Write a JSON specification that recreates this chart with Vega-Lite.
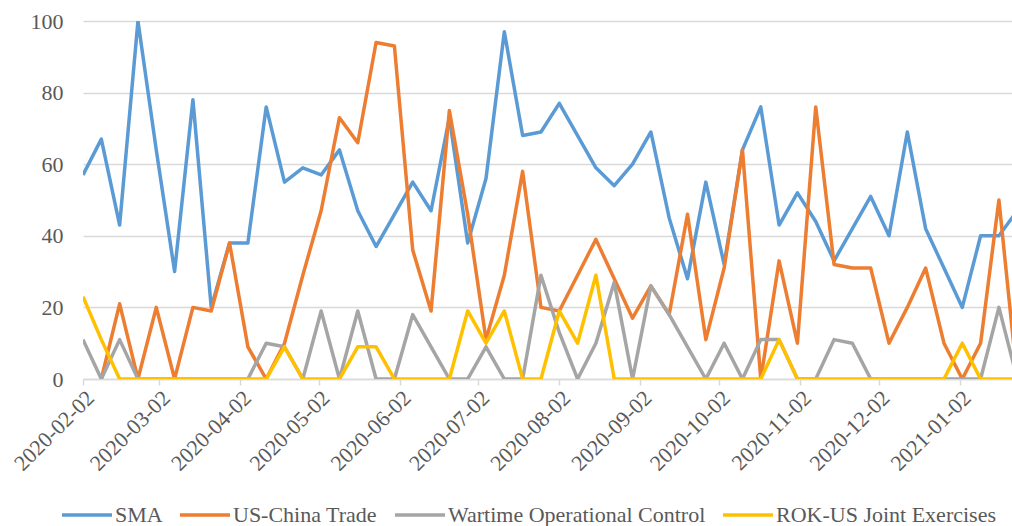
{
  "$schema": "https://vega.github.io/schema/vega-lite/v6.json",
  "width": 929,
  "height": 358,
  "autosize": {"type": "none"},
  "padding": {"left": 83, "top": 21, "right": 0, "bottom": 147},
  "background": "white",
  "config": {"view": {"stroke": null}, "font": "Liberation Serif"},
  "data": {"values": [
    {"d":"2020-02-02","s":"SMA","v":57},{"d":"2020-02-09","s":"SMA","v":67},{"d":"2020-02-16","s":"SMA","v":43},{"d":"2020-02-23","s":"SMA","v":100},
    {"d":"2020-03-01","s":"SMA","v":64},{"d":"2020-03-08","s":"SMA","v":30},{"d":"2020-03-15","s":"SMA","v":78},{"d":"2020-03-22","s":"SMA","v":20},
    {"d":"2020-03-29","s":"SMA","v":38},{"d":"2020-04-05","s":"SMA","v":38},{"d":"2020-04-12","s":"SMA","v":76},{"d":"2020-04-19","s":"SMA","v":55},
    {"d":"2020-04-26","s":"SMA","v":59},{"d":"2020-05-03","s":"SMA","v":57},{"d":"2020-05-10","s":"SMA","v":64},{"d":"2020-05-17","s":"SMA","v":47},
    {"d":"2020-05-24","s":"SMA","v":37},{"d":"2020-05-31","s":"SMA","v":46},{"d":"2020-06-07","s":"SMA","v":55},{"d":"2020-06-14","s":"SMA","v":47},
    {"d":"2020-06-21","s":"SMA","v":73},{"d":"2020-06-28","s":"SMA","v":38},{"d":"2020-07-05","s":"SMA","v":56},{"d":"2020-07-12","s":"SMA","v":97},
    {"d":"2020-07-19","s":"SMA","v":68},{"d":"2020-07-26","s":"SMA","v":69},{"d":"2020-08-02","s":"SMA","v":77},{"d":"2020-08-09","s":"SMA","v":68},
    {"d":"2020-08-16","s":"SMA","v":59},{"d":"2020-08-23","s":"SMA","v":54},{"d":"2020-08-30","s":"SMA","v":60},{"d":"2020-09-06","s":"SMA","v":69},
    {"d":"2020-09-13","s":"SMA","v":45},{"d":"2020-09-20","s":"SMA","v":28},{"d":"2020-09-27","s":"SMA","v":55},{"d":"2020-10-04","s":"SMA","v":32},
    {"d":"2020-10-11","s":"SMA","v":64},{"d":"2020-10-18","s":"SMA","v":76},{"d":"2020-10-25","s":"SMA","v":43},{"d":"2020-11-01","s":"SMA","v":52},
    {"d":"2020-11-08","s":"SMA","v":44},{"d":"2020-11-15","s":"SMA","v":33},{"d":"2020-11-22","s":"SMA","v":42},{"d":"2020-11-29","s":"SMA","v":51},
    {"d":"2020-12-06","s":"SMA","v":40},{"d":"2020-12-13","s":"SMA","v":69},{"d":"2020-12-20","s":"SMA","v":42},{"d":"2020-12-27","s":"SMA","v":31},
    {"d":"2021-01-03","s":"SMA","v":20},{"d":"2021-01-10","s":"SMA","v":40},{"d":"2021-01-17","s":"SMA","v":40},{"d":"2021-01-24","s":"SMA","v":47},

    {"d":"2020-02-09","s":"US-China Trade","v":0},{"d":"2020-02-16","s":"US-China Trade","v":21},{"d":"2020-02-23","s":"US-China Trade","v":0},
    {"d":"2020-03-01","s":"US-China Trade","v":20},{"d":"2020-03-08","s":"US-China Trade","v":0},{"d":"2020-03-15","s":"US-China Trade","v":20},{"d":"2020-03-22","s":"US-China Trade","v":19},
    {"d":"2020-03-29","s":"US-China Trade","v":38},{"d":"2020-04-05","s":"US-China Trade","v":9},{"d":"2020-04-12","s":"US-China Trade","v":0},{"d":"2020-04-19","s":"US-China Trade","v":10},
    {"d":"2020-04-26","s":"US-China Trade","v":29},{"d":"2020-05-03","s":"US-China Trade","v":47},{"d":"2020-05-10","s":"US-China Trade","v":73},{"d":"2020-05-17","s":"US-China Trade","v":66},
    {"d":"2020-05-24","s":"US-China Trade","v":94},{"d":"2020-05-31","s":"US-China Trade","v":93},{"d":"2020-06-07","s":"US-China Trade","v":36},{"d":"2020-06-14","s":"US-China Trade","v":19},
    {"d":"2020-06-21","s":"US-China Trade","v":75},{"d":"2020-06-28","s":"US-China Trade","v":46},{"d":"2020-07-05","s":"US-China Trade","v":11},{"d":"2020-07-12","s":"US-China Trade","v":29},
    {"d":"2020-07-19","s":"US-China Trade","v":58},{"d":"2020-07-26","s":"US-China Trade","v":20},{"d":"2020-08-02","s":"US-China Trade","v":19},{"d":"2020-08-09","s":"US-China Trade","v":29},
    {"d":"2020-08-16","s":"US-China Trade","v":39},{"d":"2020-08-23","s":"US-China Trade","v":28},{"d":"2020-08-30","s":"US-China Trade","v":17},{"d":"2020-09-06","s":"US-China Trade","v":26},
    {"d":"2020-09-13","s":"US-China Trade","v":18},{"d":"2020-09-20","s":"US-China Trade","v":46},{"d":"2020-09-27","s":"US-China Trade","v":11},{"d":"2020-10-04","s":"US-China Trade","v":31},
    {"d":"2020-10-11","s":"US-China Trade","v":64},{"d":"2020-10-18","s":"US-China Trade","v":0},{"d":"2020-10-25","s":"US-China Trade","v":33},{"d":"2020-11-01","s":"US-China Trade","v":10},
    {"d":"2020-11-08","s":"US-China Trade","v":76},{"d":"2020-11-15","s":"US-China Trade","v":32},{"d":"2020-11-22","s":"US-China Trade","v":31},{"d":"2020-11-29","s":"US-China Trade","v":31},
    {"d":"2020-12-06","s":"US-China Trade","v":10},{"d":"2020-12-13","s":"US-China Trade","v":20},{"d":"2020-12-20","s":"US-China Trade","v":31},{"d":"2020-12-27","s":"US-China Trade","v":10},
    {"d":"2021-01-03","s":"US-China Trade","v":0},{"d":"2021-01-10","s":"US-China Trade","v":10},{"d":"2021-01-17","s":"US-China Trade","v":50},{"d":"2021-01-24","s":"US-China Trade","v":0},

    {"d":"2020-02-02","s":"Wartime Operational Control","v":11},{"d":"2020-02-09","s":"Wartime Operational Control","v":0},{"d":"2020-02-16","s":"Wartime Operational Control","v":11},{"d":"2020-02-23","s":"Wartime Operational Control","v":0},
    {"d":"2020-03-01","s":"Wartime Operational Control","v":0},{"d":"2020-03-08","s":"Wartime Operational Control","v":0},{"d":"2020-03-15","s":"Wartime Operational Control","v":0},{"d":"2020-03-22","s":"Wartime Operational Control","v":0},
    {"d":"2020-03-29","s":"Wartime Operational Control","v":0},{"d":"2020-04-05","s":"Wartime Operational Control","v":0},{"d":"2020-04-12","s":"Wartime Operational Control","v":10},{"d":"2020-04-19","s":"Wartime Operational Control","v":9},
    {"d":"2020-04-26","s":"Wartime Operational Control","v":0},{"d":"2020-05-03","s":"Wartime Operational Control","v":19},{"d":"2020-05-10","s":"Wartime Operational Control","v":0},{"d":"2020-05-17","s":"Wartime Operational Control","v":19},
    {"d":"2020-05-24","s":"Wartime Operational Control","v":0},{"d":"2020-05-31","s":"Wartime Operational Control","v":0},{"d":"2020-06-07","s":"Wartime Operational Control","v":18},{"d":"2020-06-14","s":"Wartime Operational Control","v":9},
    {"d":"2020-06-21","s":"Wartime Operational Control","v":0},{"d":"2020-06-28","s":"Wartime Operational Control","v":0},{"d":"2020-07-05","s":"Wartime Operational Control","v":9},{"d":"2020-07-12","s":"Wartime Operational Control","v":0},
    {"d":"2020-07-19","s":"Wartime Operational Control","v":0},{"d":"2020-07-26","s":"Wartime Operational Control","v":29},{"d":"2020-08-02","s":"Wartime Operational Control","v":13},{"d":"2020-08-09","s":"Wartime Operational Control","v":0},
    {"d":"2020-08-16","s":"Wartime Operational Control","v":10},{"d":"2020-08-23","s":"Wartime Operational Control","v":27},{"d":"2020-08-30","s":"Wartime Operational Control","v":0},{"d":"2020-09-06","s":"Wartime Operational Control","v":26},
    {"d":"2020-09-13","s":"Wartime Operational Control","v":18},{"d":"2020-09-20","s":"Wartime Operational Control","v":9},{"d":"2020-09-27","s":"Wartime Operational Control","v":0},{"d":"2020-10-04","s":"Wartime Operational Control","v":10},
    {"d":"2020-10-11","s":"Wartime Operational Control","v":0},{"d":"2020-10-18","s":"Wartime Operational Control","v":11},{"d":"2020-10-25","s":"Wartime Operational Control","v":11},{"d":"2020-11-01","s":"Wartime Operational Control","v":0},
    {"d":"2020-11-08","s":"Wartime Operational Control","v":0},{"d":"2020-11-15","s":"Wartime Operational Control","v":11},{"d":"2020-11-22","s":"Wartime Operational Control","v":10},{"d":"2020-11-29","s":"Wartime Operational Control","v":0},
    {"d":"2020-12-06","s":"Wartime Operational Control","v":0},{"d":"2020-12-13","s":"Wartime Operational Control","v":0},{"d":"2020-12-20","s":"Wartime Operational Control","v":0},{"d":"2020-12-27","s":"Wartime Operational Control","v":0},
    {"d":"2021-01-03","s":"Wartime Operational Control","v":0},{"d":"2021-01-10","s":"Wartime Operational Control","v":0},{"d":"2021-01-17","s":"Wartime Operational Control","v":20},{"d":"2021-01-24","s":"Wartime Operational Control","v":0},

    {"d":"2020-02-02","s":"ROK-US Joint Exercises","v":23},{"d":"2020-02-09","s":"ROK-US Joint Exercises","v":11},{"d":"2020-02-16","s":"ROK-US Joint Exercises","v":0},{"d":"2020-02-23","s":"ROK-US Joint Exercises","v":0},
    {"d":"2020-03-01","s":"ROK-US Joint Exercises","v":0},{"d":"2020-03-08","s":"ROK-US Joint Exercises","v":0},{"d":"2020-03-15","s":"ROK-US Joint Exercises","v":0},{"d":"2020-03-22","s":"ROK-US Joint Exercises","v":0},
    {"d":"2020-03-29","s":"ROK-US Joint Exercises","v":0},{"d":"2020-04-05","s":"ROK-US Joint Exercises","v":0},{"d":"2020-04-12","s":"ROK-US Joint Exercises","v":0},{"d":"2020-04-19","s":"ROK-US Joint Exercises","v":9},
    {"d":"2020-04-26","s":"ROK-US Joint Exercises","v":0},{"d":"2020-05-03","s":"ROK-US Joint Exercises","v":0},{"d":"2020-05-10","s":"ROK-US Joint Exercises","v":0},{"d":"2020-05-17","s":"ROK-US Joint Exercises","v":9},
    {"d":"2020-05-24","s":"ROK-US Joint Exercises","v":9},{"d":"2020-05-31","s":"ROK-US Joint Exercises","v":0},{"d":"2020-06-07","s":"ROK-US Joint Exercises","v":0},{"d":"2020-06-14","s":"ROK-US Joint Exercises","v":0},
    {"d":"2020-06-21","s":"ROK-US Joint Exercises","v":0},{"d":"2020-06-28","s":"ROK-US Joint Exercises","v":19},{"d":"2020-07-05","s":"ROK-US Joint Exercises","v":10},{"d":"2020-07-12","s":"ROK-US Joint Exercises","v":19},
    {"d":"2020-07-19","s":"ROK-US Joint Exercises","v":0},{"d":"2020-07-26","s":"ROK-US Joint Exercises","v":0},{"d":"2020-08-02","s":"ROK-US Joint Exercises","v":19},{"d":"2020-08-09","s":"ROK-US Joint Exercises","v":10},
    {"d":"2020-08-16","s":"ROK-US Joint Exercises","v":29},{"d":"2020-08-23","s":"ROK-US Joint Exercises","v":0},{"d":"2020-08-30","s":"ROK-US Joint Exercises","v":0},{"d":"2020-09-06","s":"ROK-US Joint Exercises","v":0},
    {"d":"2020-09-13","s":"ROK-US Joint Exercises","v":0},{"d":"2020-09-20","s":"ROK-US Joint Exercises","v":0},{"d":"2020-09-27","s":"ROK-US Joint Exercises","v":0},{"d":"2020-10-04","s":"ROK-US Joint Exercises","v":0},
    {"d":"2020-10-11","s":"ROK-US Joint Exercises","v":0},{"d":"2020-10-18","s":"ROK-US Joint Exercises","v":0},{"d":"2020-10-25","s":"ROK-US Joint Exercises","v":11},{"d":"2020-11-01","s":"ROK-US Joint Exercises","v":0},
    {"d":"2020-11-08","s":"ROK-US Joint Exercises","v":0},{"d":"2020-11-15","s":"ROK-US Joint Exercises","v":0},{"d":"2020-11-22","s":"ROK-US Joint Exercises","v":0},{"d":"2020-11-29","s":"ROK-US Joint Exercises","v":0},
    {"d":"2020-12-06","s":"ROK-US Joint Exercises","v":0},{"d":"2020-12-13","s":"ROK-US Joint Exercises","v":0},{"d":"2020-12-20","s":"ROK-US Joint Exercises","v":0},{"d":"2020-12-27","s":"ROK-US Joint Exercises","v":0},
    {"d":"2021-01-03","s":"ROK-US Joint Exercises","v":10},{"d":"2021-01-10","s":"ROK-US Joint Exercises","v":0},{"d":"2021-01-17","s":"ROK-US Joint Exercises","v":0},{"d":"2021-01-24","s":"ROK-US Joint Exercises","v":0}
  ]},
  "mark": {"type": "line", "strokeWidth": 3.5, "clip": true, "strokeJoin": "round"},
  "encoding": {
    "x": {
      "field": "d", "type": "temporal",
      "scale": {"type": "utc", "domain": [{"year": 2020, "month": 2, "date": 2, "utc": true}, {"year": 2021, "month": 1, "date": 22, "utc": true}]},
      "axis": {
        "title": null, "grid": false, "format": "%Y-%m-%d", "labelAngle": -45, "labelFont": "Liberation Serif", "labelFontSize": 22, "labelColor": "#595959",
        "labelOverlap": false, "labelFlush": false, "labelLimit": 300, "tickSize": 6, "tickColor": "#D9D9D9", "tickWidth": 1.5, "domainColor": "#D9D9D9", "domainWidth": 1.5,
        "values": [
          {"year": 2020, "month": 2, "date": 2, "utc": true}, {"year": 2020, "month": 3, "date": 2, "utc": true},
          {"year": 2020, "month": 4, "date": 2, "utc": true}, {"year": 2020, "month": 5, "date": 2, "utc": true},
          {"year": 2020, "month": 6, "date": 2, "utc": true}, {"year": 2020, "month": 7, "date": 2, "utc": true},
          {"year": 2020, "month": 8, "date": 2, "utc": true}, {"year": 2020, "month": 9, "date": 2, "utc": true},
          {"year": 2020, "month": 10, "date": 2, "utc": true}, {"year": 2020, "month": 11, "date": 2, "utc": true},
          {"year": 2020, "month": 12, "date": 2, "utc": true}, {"year": 2021, "month": 1, "date": 2, "utc": true}
        ]
      }
    },
    "y": {
      "field": "v", "type": "quantitative", "scale": {"domain": [0, 100]},
      "axis": {"title": null, "values": [0, 20, 40, 60, 80, 100], "grid": true, "gridColor": "#D9D9D9", "gridWidth": 1.5, "domain": false, "ticks": false,
        "labelPadding": 20, "labelFont": "Liberation Serif", "labelFontSize": 22, "labelColor": "#595959"}
    },
    "color": {
      "field": "s", "type": "nominal",
      "scale": {"domain": ["SMA", "US-China Trade", "Wartime Operational Control", "ROK-US Joint Exercises"], "range": ["#5B9BD5", "#ED7D31", "#A5A5A5", "#FFC000"]},
      "legend": {"title": null, "orient": "none", "legendX": -23, "legendY": 467, "direction": "horizontal", "symbolType": "stroke", "symbolStrokeWidth": 3.5,
        "symbolSize": 2500, "labelFont": "Liberation Serif", "labelFontSize": 22, "labelLimit": 400, "labelColor": "#595959", "columnPadding": 10, "labelOffset": 1, "padding": 0}
    }
  }
}
